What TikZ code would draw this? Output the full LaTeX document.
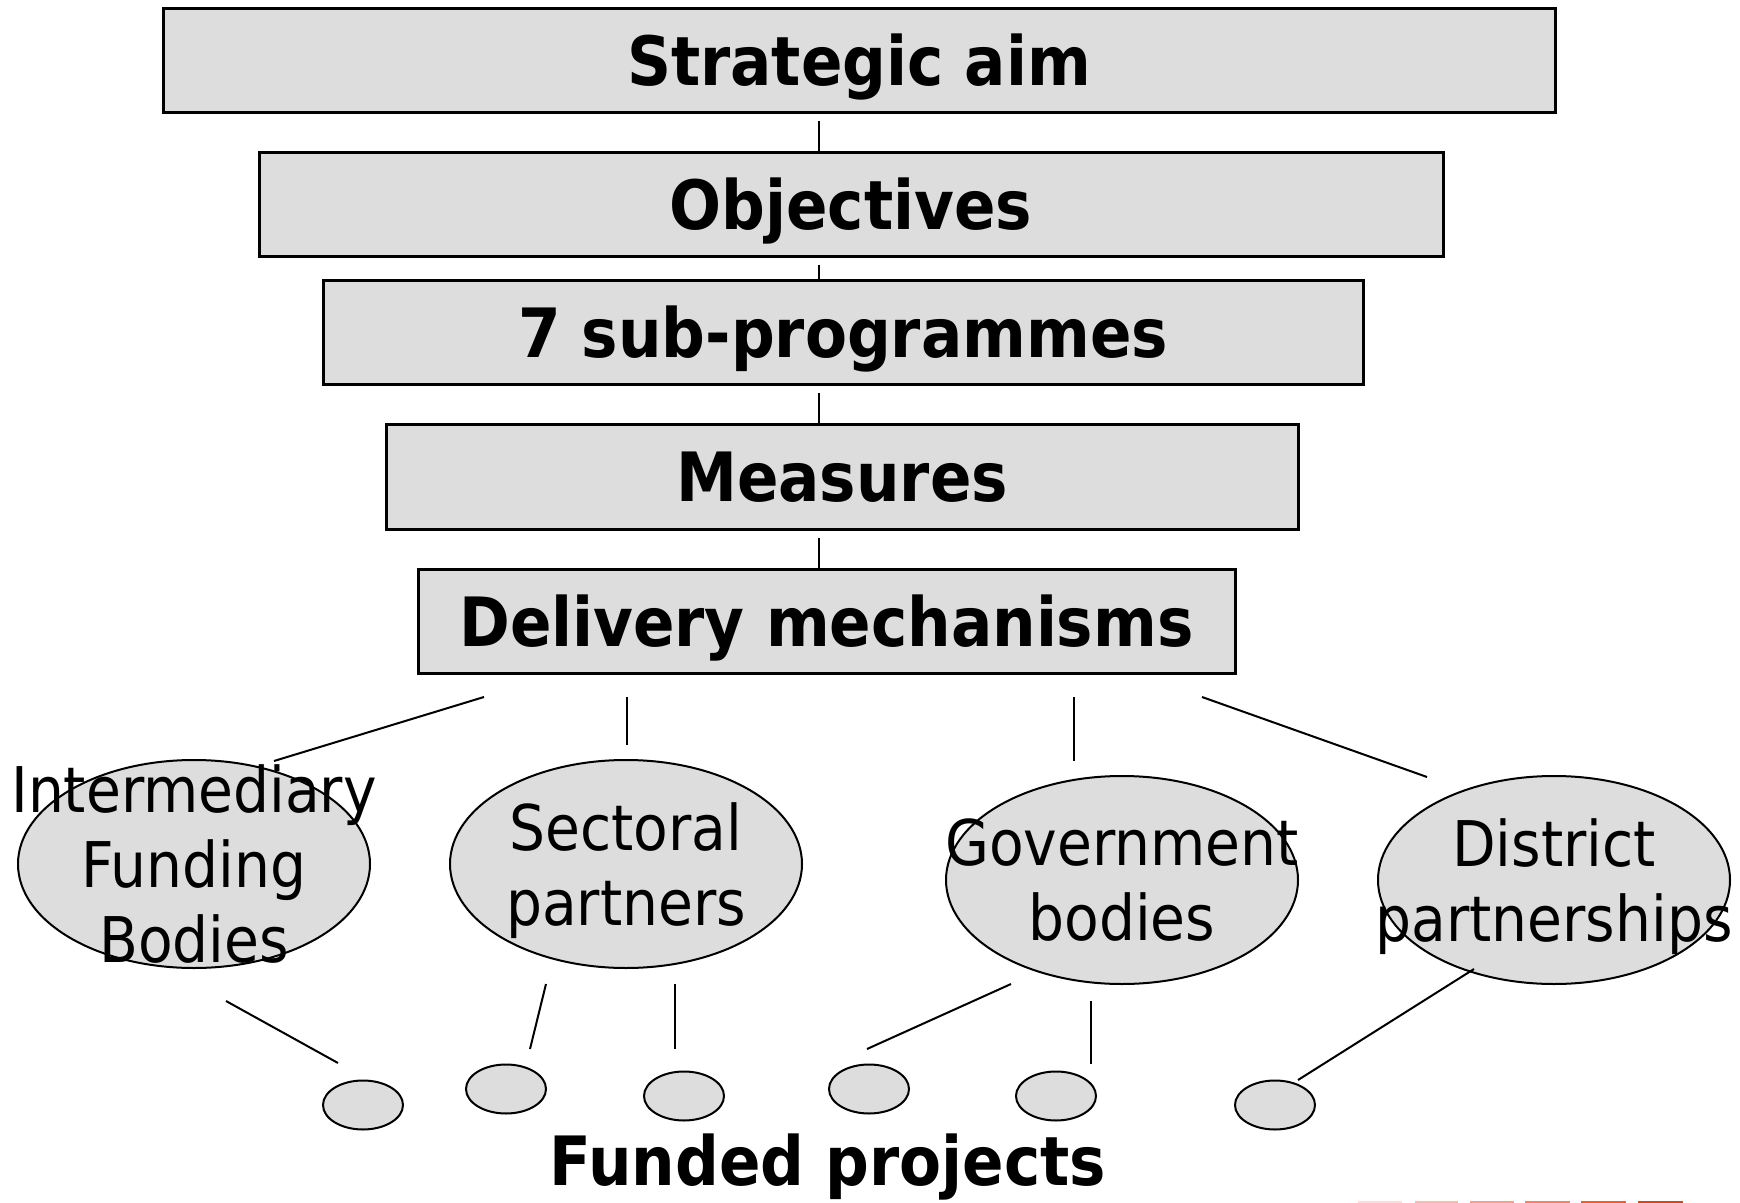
\documentclass[tikz,border=0pt]{standalone}
\usepackage{fontspec}
\setmainfont{DejaVu Sans Condensed}
\usetikzlibrary{shapes.geometric}
\definecolor{boxgray}{HTML}{DDDDDD}
\definecolor{bar1}{HTML}{FFDCDC}
\definecolor{bar2}{HTML}{FFB8AC}
\definecolor{bar3}{HTML}{FF9E88}
\definecolor{bar4}{HTML}{FF7E5E}
\definecolor{bar5}{HTML}{FF5A1E}
\definecolor{bar6}{HTML}{DD4410}
\begin{document}
\begin{tikzpicture}[x=0.5pt,y=-0.5pt,
  levelbox/.style={draw=black,line width=1.5pt,fill=boxgray,minimum width=#1,
    minimum height=52pt,inner sep=0pt,
    font=\fontsize{34pt}{40pt}\selectfont\bfseries,
    text height=24.8pt,text depth=0pt},
  bigell/.style={ellipse,draw=black,line width=1pt,fill=boxgray,
    minimum width=176pt,minimum height=104pt,inner sep=0pt},
  smallell/.style={ellipse,draw=black,line width=1pt,fill=boxgray,
    minimum width=40pt,minimum height=24.5pt,inner sep=0pt},
  elltext/.style={align=center,inner sep=0pt,
    font=\fontsize{31.5pt}{37.5pt}\selectfont},
  link/.style={draw=black,line width=1pt}]
\useasboundingbox (0,0) rectangle (1740,1203);

% level boxes
\node[levelbox=696pt] (sa) at (859,61) {Strategic aim};
\node[levelbox=592pt] (obj) at (851,204.5) {Objectives};
\node[levelbox=520pt] (sub) at (843,333) {7 sub-programmes};
\node[levelbox=456pt] (meas) at (842,477) {Measures};
\node[levelbox=408.5pt] (del) at (826.5,621.5) {Delivery mechanisms};

\coordinate (cx) at (819,0);
\draw[link,shorten <=3.5pt] (sa.south -| cx) -- (obj.north -| cx);
\draw[link,shorten <=3.5pt] (obj.south -| cx) -- (sub.north -| cx);
\draw[link,shorten <=3.5pt] (sub.south -| cx) -- (meas.north -| cx);
\draw[link,shorten <=3.5pt] (meas.south -| cx) -- (del.north -| cx);

% delivery mechanisms
\node[bigell] (ifb) at (194,864) {};
\node[elltext] (ifbt) at (ifb) {Intermediary\\Funding\\Bodies};
\node[bigell] (sec) at (626,864) {};
\node[elltext,yshift=-3.5pt] (sect) at (sec) {Sectoral\\partners};
\node[bigell] (gov) at (1122,880) {};
\node[elltext] (govt) at (gov) {Government\\bodies};
\node[bigell] (dis) at (1554,880) {};
\node[elltext,yshift=-3.5pt] (dist) at (dis) {District\\partnerships};

% funded projects
\node[smallell] (p1) at (363,1105) {};
\node[smallell] (p2) at (506,1089) {};
\node[smallell] (p3) at (684,1096) {};
\node[smallell] (p4) at (869,1089) {};
\node[smallell] (p5) at (1056,1096) {};
\node[smallell] (p6) at (1275,1105) {};
\node[inner sep=0pt,anchor=base,font=\fontsize{34pt}{40pt}\selectfont\bfseries] (fp) at (828,1185) {Funded projects};

% connector end points
\coordinate (a1) at (484,697); \coordinate (b1) at (274,761);
\coordinate (a2) at (627,697); \coordinate (b2) at (627,745);
\coordinate (a3) at (1074,697); \coordinate (b3) at (1074,761);
\coordinate (a4) at (1202,697); \coordinate (b4) at (1427,777);
\draw[link] (a1) -- (b1);
\draw[link] (a2) -- (b2);
\draw[link] (a3) -- (b3);
\draw[link] (a4) -- (b4);

\coordinate (c1) at (226,1001); \coordinate (d1) at (338,1063);
\coordinate (c2) at (546,984);  \coordinate (d2) at (530,1049);
\coordinate (c3) at (675,984);  \coordinate (d3) at (675,1049);
\coordinate (c4) at (1011,984); \coordinate (d4) at (867,1049);
\coordinate (c5) at (1091,1001); \coordinate (d5) at (1091,1064);
\coordinate (c6) at (1474,969); \coordinate (d6) at (1298,1080);
\draw[link] (c1) -- (d1);
\draw[link] (c2) -- (d2);
\draw[link] (c3) -- (d3);
\draw[link] (c4) -- (d4);
\draw[link] (c5) -- (d5);
\draw[link] (c6) -- (d6);

% coloured bars at the bottom edge
\fill[bar1] (1358,1200.5) rectangle (1402,1203);
\fill[bar2] (1415,1200.5) rectangle (1458,1203);
\fill[bar3] (1470,1200.5) rectangle (1514,1203);
\fill[bar4] (1525,1200.5) rectangle (1570,1203);
\fill[bar5] (1581,1200.5) rectangle (1626,1203);
\fill[bar6] (1638,1200.5) rectangle (1683,1203);
\end{tikzpicture}
\end{document}
